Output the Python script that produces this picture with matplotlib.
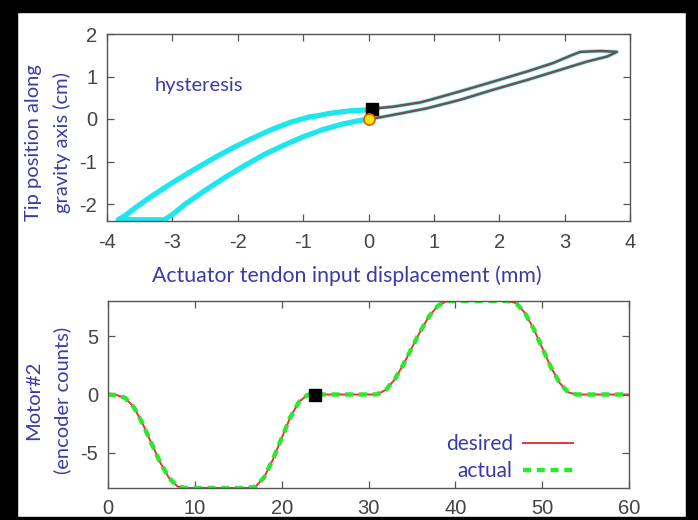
import numpy as np
import matplotlib.pyplot as plt
from matplotlib.patches import Rectangle

plt.rcParams['font.family'] = 'Liberation Sans'
plt.rcParams['axes.unicode_minus'] = False

W, H = 698, 520
BLUE = '#3b3ba8'
TICKC = '#444444'

# hysteresis loop, left half (x <= 0): origin -> lower branch -> bottom -> upper branch -> square
loop_left_x = [0.0, -0.15, -0.4, -0.7, -1.0, -1.3, -1.6, -1.9, -2.2, -2.5, -2.8, -3.0, -3.12,
               -3.83, -3.72, -3.55, -3.3, -3.0, -2.7, -2.4, -2.1, -1.8, -1.5, -1.2, -0.9,
               -0.8, -0.6, -0.3, 0.05]
loop_left_y = [0.0, -0.04, -0.12, -0.25, -0.42, -0.62, -0.84, -1.10, -1.38, -1.68, -2.0, -2.25, -2.37,
               -2.37, -2.27, -2.07, -1.80, -1.50, -1.22, -0.95, -0.70, -0.47, -0.26, -0.08, 0.05,
               0.07, 0.13, 0.19, 0.22]

# right half (x >= 0): square -> upper branch -> tip -> lower branch -> origin
loop_right_x = [0.05, 0.38, 0.79, 0.94, 1.40, 1.91, 2.43, 2.83, 3.09, 3.24, 3.55, 3.80,
                3.65, 3.34, 2.94, 2.43, 1.91, 1.40, 0.89, 0.49, 0.18, 0.0]
loop_right_y = [0.24, 0.29, 0.39, 0.45, 0.65, 0.88, 1.12, 1.32, 1.49, 1.58, 1.60, 1.58,
                1.47, 1.35, 1.16, 0.92, 0.69, 0.45, 0.25, 0.13, 0.04, 0.0]

start_pt = (0.0, 0.0)
square_pt = (0.05, 0.23)

# motor #2 trajectory
t = list(range(61))
motor = [0, -0.05, -0.3, -1.11, -2.51, -4.17, -5.8, -7.11, -7.87, -8, -8,
         -8, -8, -8, -8, -8, -8, -7.89, -7.05, -5.55, -3.72,
         -1.94, -0.62, -0.02, 0, 0, 0, 0, 0, 0, 0,
         0.01, 0.40, 1.28, 2.54, 4.0, 5.46, 6.72, 7.6, 7.99, 8,
         8, 8, 8, 8, 8, 8, 7.82, 7.0, 5.65, 4.0,
         2.35, 1.0, 0.18, 0, 0, 0, 0, 0, 0, 0]
motor_mark = (23.8, 0)

fig = plt.figure(figsize=(W / 100, H / 100), dpi=100)
fig.patch.set_facecolor('white')


def px_axes(l, r, top, bot):
    return fig.add_axes([l / W, 1 - bot / H, (r - l) / W, (bot - top) / H])


def style(ax):
    for s in ax.spines.values():
        s.set_color('#555555')
        s.set_linewidth(1.0)
    ax.tick_params(direction='in', top=True, right=True, length=5, width=0.9,
                   color='#555555', labelcolor=TICKC, labelsize=14.5)


# top: hysteresis
ax1 = px_axes(107, 630, 34, 221)
ax1.plot(loop_left_x, loop_left_y, color='#1ee6ee', lw=3.8, solid_joinstyle='round',
         solid_capstyle='round')
ax1.plot(loop_right_x, loop_right_y, color='#8ff4f4', lw=3.0, solid_joinstyle='round')
ax1.plot(loop_right_x, loop_right_y, color='#5e5656', lw=1.8, solid_joinstyle='round')
ax1.plot(loop_right_x, loop_right_y, color='#a04040', lw=0.6, alpha=0.6)
ax1.plot(*square_pt, marker='s', ms=9, color='black', zorder=5)
ax1.plot(*start_pt, marker='o', ms=8, mfc='#ffe600', mec='#e05a00', mew=1.2, zorder=6)
ax1.set_xlim(-4, 4)
ax1.set_ylim(-2.4, 2)
ax1.set_xticks(range(-4, 5))
ax1.set_yticks([-2, -1, 0, 1, 2])
style(ax1)
ax1.tick_params(axis='x', pad=9)
ax1.tick_params(axis='y', pad=7)

# bottom: motor trajectory
ax2 = px_axes(108, 629, 301, 488)
ax2.plot(t, motor, color='#e8343a', lw=1.4, label='desired')
ax2.plot(t, motor, color='#2de82d', lw=3.2, dashes=(1.8, 1.3), label='actual')
ax2.plot(*motor_mark, marker='s', ms=9, color='black', zorder=5)
ax2.set_xlim(0, 60)
ax2.set_ylim(-8, 8)
ax2.set_xticks(range(0, 61, 10))
ax2.set_yticks([-5, 0, 5])
style(ax2)
ax2.tick_params(axis='x', pad=8)
ax2.tick_params(axis='y', pad=7)
leg = ax2.legend(loc='lower right', bbox_to_anchor=(0.893, 0.035), frameon=False,
                 markerfirst=False, handlelength=2.4, handletextpad=0.5,
                 labelspacing=0.35, borderpad=0, borderaxespad=0,
                 prop={'family': 'Lato', 'size': 15})
for txt in leg.get_texts():
    txt.set_color(BLUE)

# texts
fig.text(155 / W, 1 - 85 / H, 'hysteresis', family='Lato', size=14.5, color=BLUE,
         ha='left', va='center')
fig.text(347 / W, 1 - 276 / H, 'Actuator tendon input displacement (mm)', family='Lato',
         size=15.3, color=BLUE, ha='center', va='center')
fig.text(48 / W, 1 - 143 / H, 'Tip position along\ngravity axis (cm)', family='Lato',
         size=14.5, color=BLUE, rotation=90, ha='center', va='center',
         multialignment='center', linespacing=1.7)
fig.text(48 / W, 1 - 400 / H, 'Motor#2\n(encoder counts)', family='Lato',
         size=14.5, color=BLUE, rotation=90, ha='center', va='center',
         multialignment='center', linespacing=1.7)

# black screenshot frame on top of everything
frame = [(0, 0, 17, H), (686, 0, W - 686, H), (0, 0, W, 12), (0, 517, W, H - 517)]
for x0, y0, w, h in frame:
    fig.add_artist(Rectangle((x0 / W, 1 - (y0 + h) / H), w / W, h / H,
                             transform=fig.transFigure, color='black', zorder=20))

fig.savefig('out.png', dpi=100)
